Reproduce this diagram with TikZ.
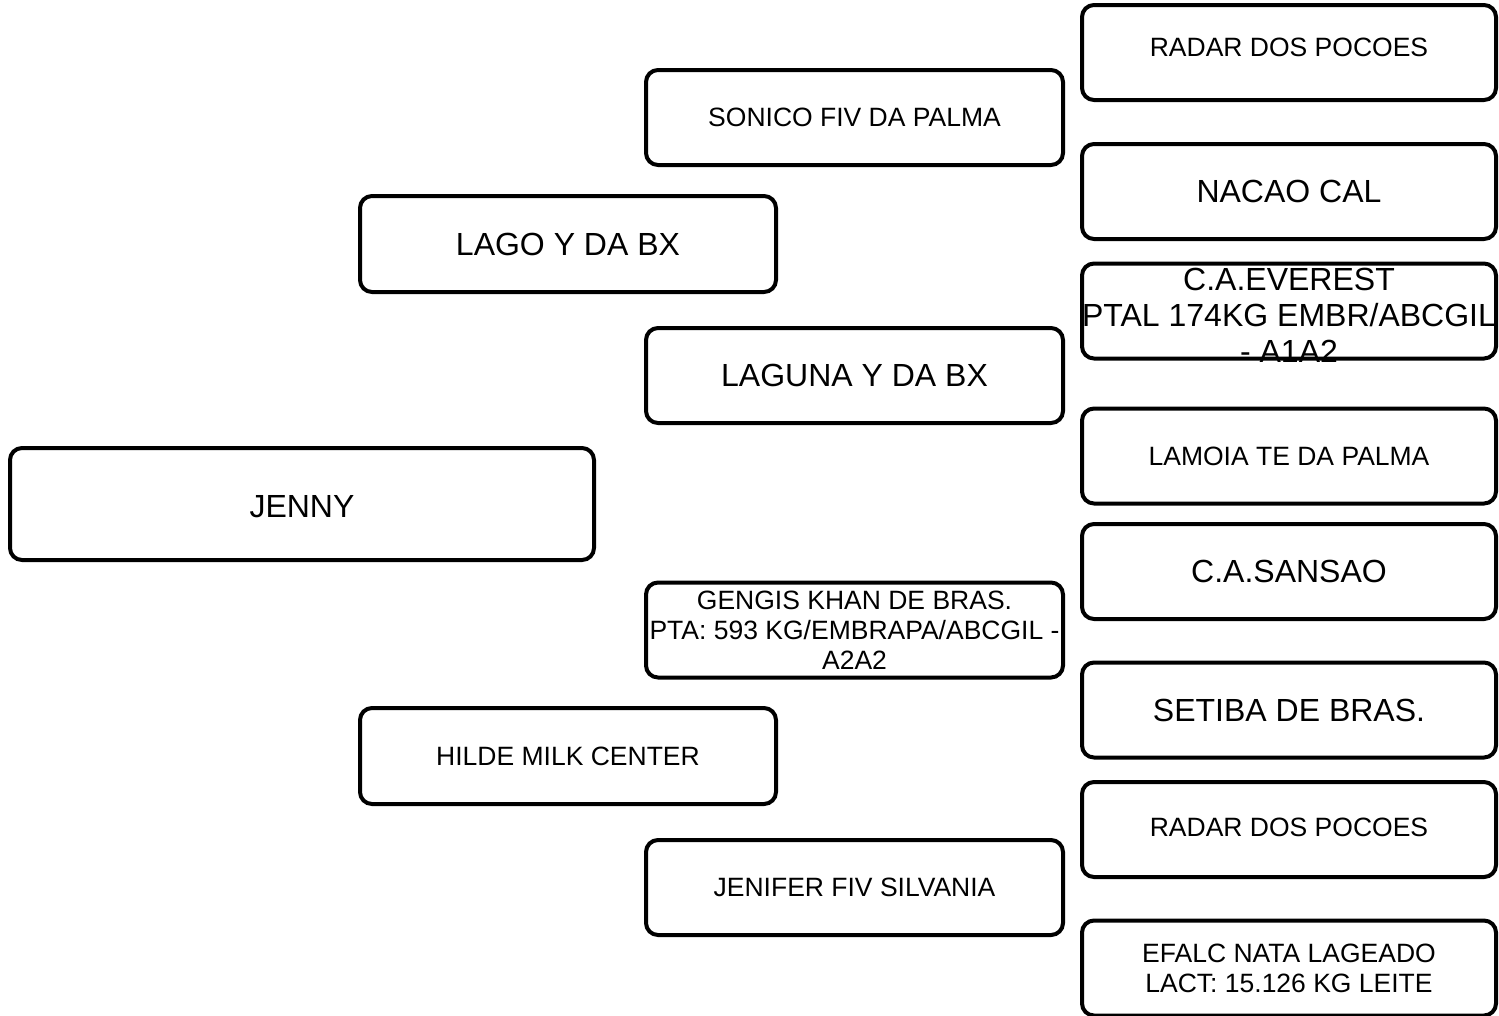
\documentclass[tikz,border=0pt]{standalone}
\usepackage{fontspec}
\setmainfont{Liberation Sans}
\begin{document}
\begin{tikzpicture}[x=1pt,y=-1pt,
  box/.style={draw=black,line width=4pt,rounded corners=12pt,fill=white,
    inner sep=0pt,align=center,text=black},
  txt/.style={inner sep=0pt,align=center,text=black},
  sm/.style={font=\fontsize{26.5}{30}\selectfont},
  lg/.style={font=\fontsize{32}{36}\selectfont},
  c1/.style={box,minimum width=584pt,minimum height=112pt},
  c2/.style={box,minimum width=416pt,minimum height=96pt},
  c3/.style={box,minimum width=417pt,minimum height=95pt},
  c4/.style={box,minimum width=414pt,minimum height=95pt}]
\useasboundingbox (0,0) rectangle (1499,1015);
\clip (0,0) rectangle (1499,1015);
% generation 1
\node[c1,lg,text height=27.3pt,text depth=0pt] (jenny) at (302,504) {JENNY};
% generation 2
\node[c2,lg] (lago) at (568,244) {LAGO Y DA BX};
\node[c2,sm] (hilde) at (568,756) {HILDE MILK CENTER};
% generation 3
\node[c3,sm] (sonico) at (854.5,117.5) {SONICO FIV DA PALMA};
\node[c3,lg] (laguna) at (854.5,375.5) {LAGUNA Y DA BX};
\node[c3,sm] (gengis) at (854.5,630) {GENGIS KHAN DE BRAS.\\PTA: 593 KG/EMBRAPA/ABCGIL -\\A2A2};
\node[c3,sm] (jenifer) at (854.5,887.5) {JENIFER FIV SILVANIA};
% generation 4
\node[c4,sm,text height=19.3pt,text depth=11pt] (radar1) at (1289,52.5) {RADAR DOS POCOES};
\node[c4,lg] (nacao) at (1289,191.5) {NACAO CAL};
\node[c4] (everest) at (1289,311) {};
\node[txt,lg] (everesttext) at (1289,315) {C.A.EVEREST\\PTAL 174KG EMBR/ABCGIL\\- A1A2};
\node[c4,sm] (lamoia) at (1289,456) {LAMOIA TE DA PALMA};
\node[c4,lg] (sansao) at (1289,571.5) {C.A.SANSAO};
\node[c4,lg] (setiba) at (1289,710) {SETIBA DE BRAS.};
\node[c4,sm,text height=19.3pt,text depth=5pt] (radar2) at (1289,829.5) {RADAR DOS POCOES};
\node[c4,sm] (efalc) at (1289,968) {EFALC NATA LAGEADO\\LACT: 15.126 KG LEITE};
\end{tikzpicture}
\end{document}
